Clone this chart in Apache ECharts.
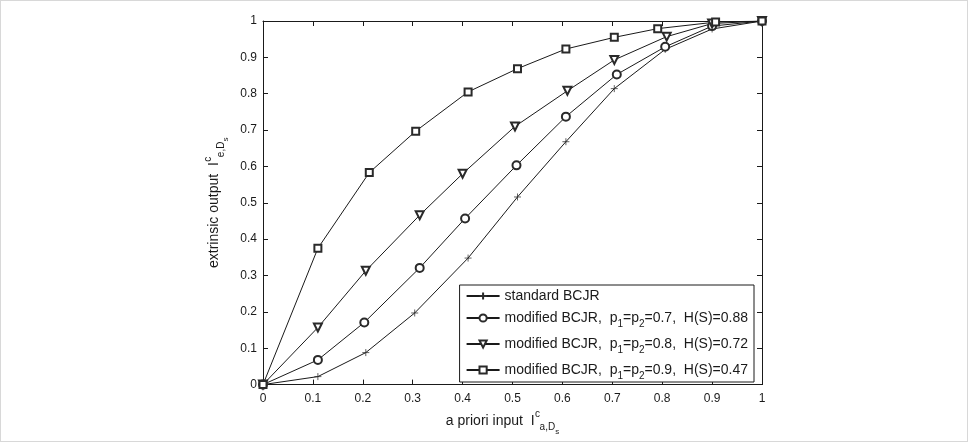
<!DOCTYPE html>
<html>
<head>
<meta charset="utf-8">
<script src="https://cdn.jsdelivr.net/npm/echarts@6/dist/echarts.min.js"></script>
<style>
  html, body { margin: 0; padding: 0; background: #fff; }
  #chart { width: 968px; height: 442px; box-sizing: border-box; border: 1px solid #d8d8d8; }
</style>
</head>
<body>
<div id="chart"></div>
<script>
  // series values (x = a priori input, y = extrinsic output)
  const xStandard = [0, 0.11, 0.206, 0.304, 0.411, 0.51, 0.607, 0.704, 0.806, 0.9, 1]
  const yStandard = [0, 0.022, 0.088, 0.197, 0.348, 0.516, 0.668, 0.814, 0.922, 0.978, 1]

  const xP07 = [0, 0.11, 0.203, 0.314, 0.405, 0.508, 0.607, 0.709, 0.806, 0.9, 1]
  const yP07 = [0, 0.068, 0.171, 0.321, 0.457, 0.603, 0.737, 0.853, 0.929, 0.986, 1]

  const xP08 = [0, 0.11, 0.206, 0.314, 0.4, 0.505, 0.61, 0.704, 0.809, 0.9, 1]
  const yP08 = [0, 0.157, 0.313, 0.466, 0.58, 0.71, 0.808, 0.893, 0.957, 0.993, 1]

  const xP09 = [0, 0.11, 0.213, 0.306, 0.411, 0.51, 0.607, 0.704, 0.791, 0.907, 1]
  const yP09 = [0, 0.375, 0.583, 0.697, 0.805, 0.869, 0.923, 0.955, 0.979, 0.997, 1]

  const seriesNames = ['standard', 'p07', 'p08', 'p09']
  const legendLabels = {
    standard: '{t|standard BCJR}',
    p07: '{t|modified BCJR,  p}{sub|1}{t|=p}{sub|2}{t|=0.7,  H(S)=0.88}',
    p08: '{t|modified BCJR,  p}{sub|1}{t|=p}{sub|2}{t|=0.8,  H(S)=0.72}',
    p09: '{t|modified BCJR,  p}{sub|1}{t|=p}{sub|2}{t|=0.9,  H(S)=0.47}'
  }

  const ink = '#1a1a1a'
  const markInk = '#2a2a2a'
  const font = 'Liberation Sans, Arial, sans-serif'
  const plus = 'path://M0,5L10,5M5,0L5,10'

  function pairs(xs, ys) {
    return xs.map((x, i) => [x, ys[i]])
  }

  function lineSeries(name, xs, ys, symbol, size, rotate) {
    return {
      name: name,
      type: 'line',
      data: pairs(xs, ys),
      symbol: symbol,
      symbolSize: size,
      symbolRotate: rotate || 0,
      showAllSymbol: true,
      lineStyle: { color: ink, width: 1 },
      itemStyle: { color: markInk, borderColor: markInk, borderWidth: 0.75 },
      emphasis: { disabled: true },
      animation: false,
      z: 3
    }
  }

  const chart = echarts.init(document.getElementById('chart'), null, { renderer: 'canvas' })

  // I^c with sub/superscript; sup box is narrow so the sub sits almost under it
  const nameRich = {
    t: { fontSize: 14, fontFamily: font, color: ink },
    sup: { fontSize: 10, fontFamily: font, color: ink, width: 4, align: 'left', padding: [0, 0, 13, 1] },
    sub: { fontSize: 10, fontFamily: font, color: ink, padding: [13, 0, 0, 0] },
    ss: { fontSize: 8, fontFamily: font, color: ink, padding: [22, 0, 0, 0] }
  }

  const axisCommon = {
    type: 'value',
    min: 0,
    max: 1,
    interval: 0.1,
    axisLine: { show: true, onZero: false, lineStyle: { color: ink, width: 1 } },
    axisTick: { show: true, inside: true, length: 5, lineStyle: { color: ink } },
    splitLine: { show: false }
  }

  chart.setOption({
    backgroundColor: '#fff',
    textStyle: { fontFamily: font },
    grid: { left: 262, right: 205, top: 20, bottom: 50, containLabel: false },
    xAxis: [
      Object.assign({}, axisCommon, {
        position: 'bottom',
        axisLabel: { color: ink, fontSize: 12, margin: 8 },
        name: '{t|a priori input  I}{sup|c}{sub|a,D}{ss|s}      ',
        nameLocation: 'middle',
        nameGap: 21,
        nameTextStyle: { rich: nameRich }
      }),
      Object.assign({}, axisCommon, {
        position: 'top',
        axisLabel: { show: false }
      })
    ],
    yAxis: [
      Object.assign({}, axisCommon, {
        position: 'left',
        axisLabel: { color: ink, fontSize: 12, margin: 6 },
        name: '{t|extrinsic output  I}{sup|c}{sub|e,D}{ss|s}',
        nameLocation: 'middle',
        nameRotate: 90,
        nameGap: 29,
        nameTextStyle: { rich: nameRich }
      }),
      Object.assign({}, axisCommon, {
        position: 'right',
        axisLabel: { show: false }
      })
    ],
    legend: {
      orient: 'vertical',
      right: 213,
      top: 284,
      data: seriesNames,
      backgroundColor: '#fff',
      borderColor: ink,
      borderWidth: 1,
      borderRadius: 0,
      padding: [4, 6, 1, 6],
      itemWidth: 33,
      itemHeight: 9,
      itemGap: 8,
      selectedMode: false,
      formatter: name => legendLabels[name],
      textStyle: {
        color: ink,
        rich: {
          t: { fontSize: 14, fontFamily: font, color: ink },
          sub: { fontSize: 10, fontFamily: font, color: ink, padding: [12, 0, 0, 0] }
        }
      }
    },
    series: [
      lineSeries('standard', xStandard, yStandard, plus, 7),
      lineSeries('p07', xP07, yP07, 'emptyCircle', 8),
      lineSeries('p08', xP08, yP08, 'emptyTriangle', 8, 180),
      lineSeries('p09', xP09, yP09, 'emptyRect', 7)
    ]
  })
</script>
</body>
</html>
